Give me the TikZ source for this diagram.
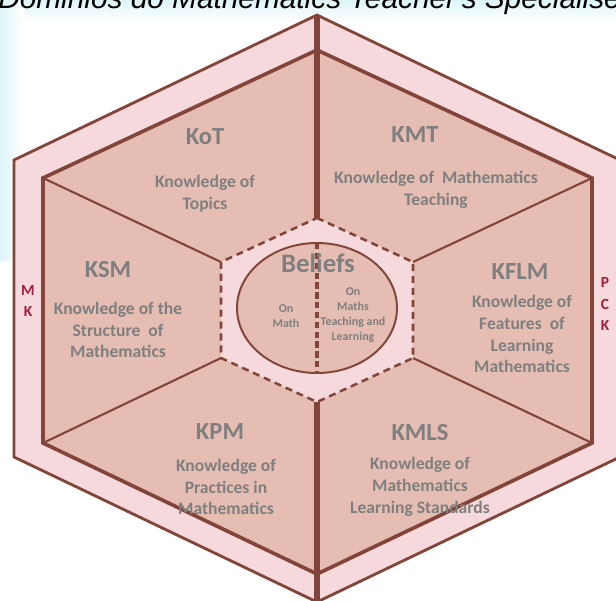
\documentclass[tikz,border=0pt]{standalone}
\usepackage{fontspec}
\setmainfont{Carlito}
\newfontfamily\headfont{Liberation Sans}
\usetikzlibrary{positioning}
\definecolor{band}{HTML}{F5D9DC}
\definecolor{sector}{HTML}{E5BDB2}
\definecolor{edge}{HTML}{83453A}
\definecolor{txt}{HTML}{7F7F7F}
\definecolor{mkred}{HTML}{A41E3A}
\definecolor{sky}{HTML}{DDF5F8}

\begin{document}
\begin{tikzpicture}[x=0.025cm,y=-0.025cm,
		subdomain/.style={font=\bfseries\fontsize{17.5}{19}\selectfont,text=txt},
		desc/.style={font=\bfseries\fontsize{12.5}{15.5}\selectfont,text=txt,align=center},
		note/.style={font=\bfseries\fontsize{8.5}{10.6}\selectfont,text=txt,align=center},
		side/.style={font=\bfseries\fontsize{11}{15}\selectfont,text=mkred,align=center},
		spoke/.style={draw=edge,line width=1.5pt},
		divider/.style={draw=edge,line width=4pt}]
		\useasboundingbox (0,0) rectangle (616,600);
		\clip (0,0) rectangle (616,600);
		%Background
		\shade[top color=sky,bottom color=white] (0,0) rectangle (616,22);
		\shade[left color=sky,right color=white] (0,0) rectangle (24,260);
		\node[anchor=base west,inner sep=0pt,font=\headfont\itshape\fontsize{21.2}{24}\selectfont] (title) at (-2,8) {Dominios do Mathematics Teacher's Specialised};
		%Corners
		\coordinate (o1) at (317,15);  \coordinate (o2) at (620,160); \coordinate (o3) at (620,457);
		\coordinate (o4) at (317,602); \coordinate (o5) at (14,457);  \coordinate (o6) at (14,160);
		\coordinate (i1) at (317,50);  \coordinate (i2) at (592,178); \coordinate (i3) at (592,443);
		\coordinate (i4) at (317,574); \coordinate (i5) at (43,443);  \coordinate (i6) at (43,178);
		\coordinate (c1) at (317,218); \coordinate (c2) at (413,262); \coordinate (c3) at (413,358);
		\coordinate (c4) at (317,402); \coordinate (c5) at (221,358); \coordinate (c6) at (221,262);
		%Fill
		\filldraw[fill=band,draw=edge,line width=2pt] (o1)--(o2)--(o3)--(o4)--(o5)--(o6)--cycle;
		\filldraw[fill=sector,draw=edge,line width=2.6pt] (i1)--(i2)--(i3)--(i4)--(i5)--(i6)--cycle;
		%Spokes
		\draw[spoke] (i2)--(c2) (i3)--(c3) (i5)--(c5) (i6)--(c6);
		\draw[divider] (o1)--(c1) (c4)--(o4);
		%Beliefs
		\filldraw[fill=band,draw=edge,line width=1.8pt,dash pattern=on 5pt off 3.5pt] (c1)--(c2)--(c3)--(c4)--(c5)--(c6)--cycle;
		\filldraw[fill=sector,draw=edge,line width=1.4pt] (317,308) ellipse (80 and 65);
		\coordinate (etop) at (317,243);
		\coordinate (ebot) at (317,373);
		\draw[edge,line width=2.6pt,dash pattern=on 4.5pt off 2.5pt] (etop)--(ebot);
		%Descriptions
		\node[subdomain] (kot) at (205,137) {KoT};
		\node[desc] (kotd) at (205,194) {Knowledge of\\Topics};
		\node[subdomain] (kmt) at (415,135) {KMT};
		\node[desc] (kmtd) at (436,190) {Knowledge of\ \ Mathematics\\Teaching};
		\node[subdomain] (ksm) at (108,270) {KSM};
		\node[desc] (ksmd) at (118,330) {Knowledge of the\\Structure\ \ of\\Mathematics};
		\node[subdomain] (kflm) at (520,272) {KFLM};
		\node[desc] (kflmd) at (522,334) {Knowledge of\\Features\ \ of\\Learning\\Mathematics};
		\node[subdomain] (kpm) at (220,432) {KPM};
		\node[desc] (kpmd) at (226,487) {Knowledge of\\Practices in\\Mathematics};
		\node[subdomain] (kmls) at (420,433) {KMLS};
		\node[desc] (kmlsd) at (420,487) {Knowledge of\\Mathematics\\Learning Standards};
		\node[font=\bfseries\fontsize{19}{21}\selectfont,text=txt] (beliefs) at (318,263) {Beliefs};
		\node[note] (onmath) at (286,316) {On\\Math};
		\node[note] (onteach) at (353,315) {On\\Maths\\Teaching and\\Learning};
		\node[side] (mk) at (28,301) {M\\K};
		\node[side] (pck) at (605,304) {P\\C\\K};
\end{tikzpicture}
\end{document}
